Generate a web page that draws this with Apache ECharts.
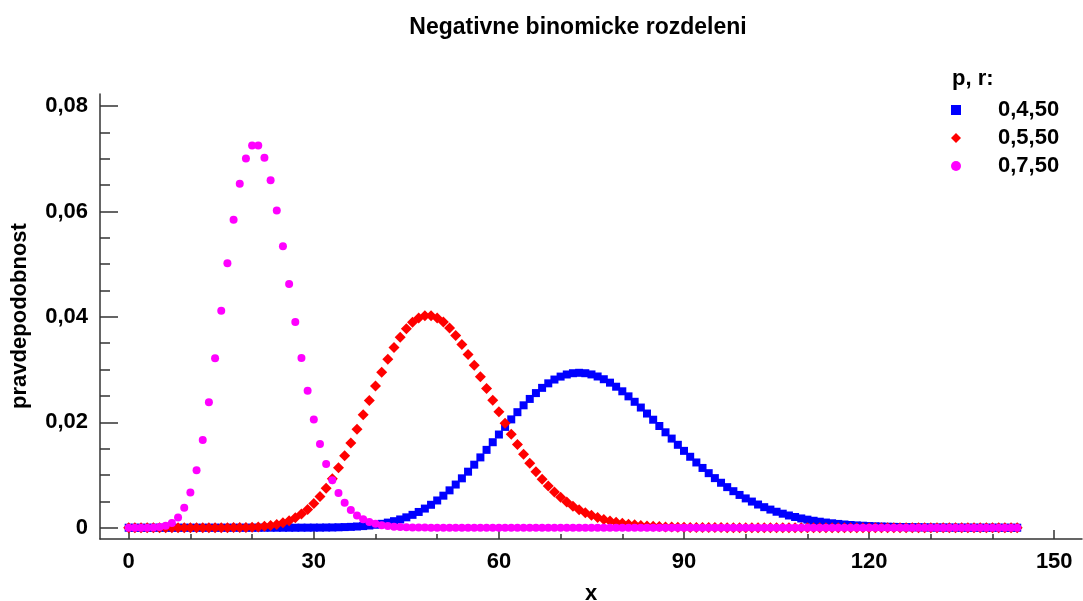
<!DOCTYPE html>
<html>
<head>
<meta charset="utf-8">
<script src="https://cdn.jsdelivr.net/npm/echarts@6/dist/echarts.min.js"></script>
<style>html,body{margin:0;padding:0;background:#fff}#c{width:1083px;height:601px}</style>
</head>
<body>
<div id="c"></div>
<script>
const xValues = [0,1,2,3,4,5,6,7,8,9,10,11,12,13,14,15,16,17,18,19,20,21,22,23,24,25,26,27,28,29,30,31,32,33,34,35,36,37,38,39,40,41,42,43,44,45,46,47,48,49,50,51,52,53,54,55,56,57,58,59,60,61,62,63,64,65,66,67,68,69,70,71,72,73,74,75,76,77,78,79,80,81,82,83,84,85,86,87,88,89,90,91,92,93,94,95,96,97,98,99,100,101,102,103,104,105,106,107,108,109,110,111,112,113,114,115,116,117,118,119,120,121,122,123,124,125,126,127,128,129,130,131,132,133,134,135,136,137,138,139,140,141,142,143,144];

const seriesNames = ['0,4,50', '0,5,50', '0,7,50'];

const p04 = [0,0,0,0,0,0,0,0,0,0,0,0,0,0,0,0,0,0,0,0,0,0,0,0,0,0,0,0,
0.00001,0.00001,0.00002,0.00002,0.00004,0.00005,0.00008,0.00012,0.00016,0.00023,0.00031,0.00042,
0.00056,0.00074,0.00097,0.00124,0.00157,0.00197,0.00244,0.00299,0.00363,0.00435,
0.00517,0.00608,0.00709,0.00819,0.00937,0.01063,0.01196,0.01334,0.01477,0.01622,
0.01768,0.01913,0.02055,0.02192,0.02322,0.02443,0.02554,0.02653,0.02739,0.02811,
0.02867,0.02907,0.02931,0.02939,0.02931,0.02908,0.02869,0.02817,0.02752,0.02675,
0.02588,0.02492,0.02389,0.02280,0.02166,0.02049,0.01930,0.01810,0.01691,0.01573,
0.01458,0.01346,0.01238,0.01134,0.01035,0.00941,0.00853,0.00770,0.00693,0.00622,
0.00556,0.00496,0.00440,0.00390,0.00344,0.00303,0.00266,0.00232,0.00203,0.00176,
0.00153,0.00132,0.00114,0.00098,0.00084,0.00072,0.00061,0.00052,0.00044,0.00038,
0.00032,0.00027,0.00023,0.00019,0.00016,0.00013,0.00011,0.00009,0.00008,0.00006,
0.00005,0.00004,0.00004,0.00003,0.00002,0.00002,0.00002,0.00001,0.00001,0.00001,
0.00001,0.00001,0,0,0];

const p05 = [0,0,0,0,0,0,0,0,0,0,0,0,0,0,0,0,
0.00001,0.00002,0.00003,0.00006,
0.00010,0.00016,0.00026,0.00041,0.00063,0.00093,0.00134,0.00188,0.00259,0.00348,
0.00459,0.00592,0.00749,0.00931,0.01136,0.01363,0.01609,0.01870,0.02141,0.02415,
0.02687,0.02949,0.03195,0.03418,0.03612,0.03773,0.03896,0.03979,0.04020,0.04020,
0.03980,0.03902,0.03789,0.03646,0.03477,0.03287,0.03082,0.02866,0.02643,0.02419,
0.02198,0.01981,0.01774,0.01577,0.01392,0.01221,0.01064,0.00921,0.00792,0.00677,
0.00576,0.00487,0.00409,0.00342,0.00284,0.00235,0.00193,0.00158,0.00129,0.00104,
0.00084,0.00067,0.00054,0.00043,0.00034,0.00027,0.00021,0.00016,0.00013,0.00010,
0.00008,0.00006,0.00005,0.00003,0.00003,0.00002,0.00002,0.00001,0.00001,0.00001,
0,0,0,0,0,0,0,0,0,0,0,0,0,0,0,0,0,0,0,0,0,0,0,0,0,0,0,0,0,0,0,0,0,0,0,0,0,0,0,0,0,0,0,0,0];

const p07 = [0,0,0,0.00001,0.00004,0.00014,0.00038,0.00091,0.00195,0.00377,
0.00667,0.01092,0.01665,0.02382,0.03216,0.04116,0.05017,0.05843,0.06525,0.07006,
0.07251,0.07251,0.07020,0.06593,0.06016,0.05342,0.04623,0.03904,0.03221,0.02599,
0.02053,0.01590,0.01207,0.00900,0.00659,0.00475,0.00336,0.00234,0.00161,0.00109,
0.00073,0.00048,0.00031,0.00020,0.00013,0.00008,0.00005,0.00003,0.00002,0.00001,
0.00001,0,0,0,0,0,0,0,0,0,0,0,0,0,0,0,0,0,0,0,0,0,0,0,0,0,0,0,0,0,0,0,0,0,0,0,0,0,0,0,0,0,0,0,0,0,0,0,0,0,
0,0,0,0,0,0,0,0,0,0,0,0,0,0,0,0,0,0,0,0,0,0,0,0,0,0,0,0,0,0,0,0,0,0,0,0,0,0,0,0,0,0,0,0,0];

const xTickLabels = [0, 30, 60, 90, 120, 150];
const xMinorTicks = [10, 20, 40, 50, 70, 80, 100, 110, 130, 140];
const yTickLabels = [0, 0.02, 0.04, 0.06, 0.08];
const yMinorTicks = [0.005, 0.01, 0.015, 0.025, 0.03, 0.035, 0.045, 0.05, 0.055, 0.065, 0.07, 0.075];

const FONT = '"Liberation Sans", Arial, sans-serif';
const axisColor = '#333';

function pairs(ys) { return xValues.map((x, i) => [x, ys[i]]); }

const chart = echarts.init(document.getElementById('c'), null, { renderer: 'canvas' });

const xRange = { min: -4.65, max: 154.5 };
const yRange = { min: -0.00214, max: 0.08228 };

chart.setOption({
  backgroundColor: '#fff',
  animation: false,
  title: [
    { text: 'Negativne binomicke rozdeleni', left: 573, top: 11, textAlign: 'center',
      textStyle: { fontFamily: FONT, fontWeight: 'bold', fontSize: 23, color: '#000' } },
    { text: 'p, r:', left: 947, top: 63,
      textStyle: { fontFamily: FONT, fontWeight: 'bold', fontSize: 22, color: '#000' } }
  ],
  legend: {
    orient: 'vertical',
    left: 946,
    top: 94,
    itemWidth: 10,
    itemHeight: 10,
    itemGap: 6,
    data: [
      { name: seriesNames[0], icon: 'rect', itemStyle: { color: '#0000ff' } },
      { name: seriesNames[1], icon: 'diamond', itemStyle: { color: '#ff0000' } },
      { name: seriesNames[2], icon: 'circle', itemStyle: { color: '#ff00ff' } }
    ],
    textStyle: { fontFamily: FONT, fontWeight: 'bold', fontSize: 22, color: '#000', lineHeight: 22, padding: [0, 0, 0, 32] }
  },
  grid: { left: 100, right: 1, top: 94, bottom: 62, containLabel: false, outerBoundsMode: 'none' },
  xAxis: [
    {
      type: 'value', min: xRange.min, max: xRange.max, position: 'bottom',
      name: 'x', nameLocation: 'middle', nameGap: 44,
      nameTextStyle: { fontFamily: FONT, fontWeight: 'bold', fontSize: 22, color: '#000' },
      axisLine: { show: true, onZero: false, lineStyle: { color: axisColor, width: 1.5 } },
      axisTick: { show: true, inside: true, length: 9, customValues: xTickLabels, lineStyle: { color: axisColor, width: 1.5 } },
      axisLabel: { show: true, customValues: xTickLabels, margin: 12,
        fontFamily: FONT, fontWeight: 'bold', fontSize: 22, color: '#000' },
      splitLine: { show: false }
    },
    {
      type: 'value', min: xRange.min, max: xRange.max, position: 'bottom', offset: 0,
      axisLine: { show: false, onZero: false },
      axisTick: { show: true, inside: true, length: 5, customValues: xMinorTicks, lineStyle: { color: axisColor, width: 1.5 } },
      axisLabel: { show: false },
      splitLine: { show: false }
    }
  ],
  yAxis: [
    {
      type: 'value', min: yRange.min, max: yRange.max, position: 'left',
      axisLine: { show: true, onZero: false, lineStyle: { color: axisColor, width: 1.5 } },
      axisTick: { show: true, inside: true, length: 18, customValues: yTickLabels, lineStyle: { color: axisColor, width: 1.5 } },
      axisLabel: { show: true, customValues: yTickLabels, margin: 12,
        fontFamily: FONT, fontWeight: 'bold', fontSize: 22, color: '#000',
        formatter: v => (Math.abs(v) < 1e-9 ? '0' : v.toFixed(2).replace('.', ',')) },
      splitLine: { show: false }
    },
    {
      type: 'value', min: yRange.min, max: yRange.max, position: 'left', offset: 0,
      axisLine: { show: false, onZero: false },
      axisTick: { show: true, inside: true, length: 10, customValues: yMinorTicks, lineStyle: { color: axisColor, width: 1.5 } },
      axisLabel: { show: false },
      splitLine: { show: false }
    }
  ],
  graphic: [
    { type: 'text', x: 20, y: 316, rotation: Math.PI / 2,
      style: { text: 'pravdepodobnost', fill: '#000', font: 'bold 22px ' + FONT, textAlign: 'center', textVerticalAlign: 'middle' } }
  ],
  series: [
    { name: seriesNames[0], type: 'scatter', symbol: 'rect', symbolSize: 8, data: pairs(p04),
      itemStyle: { color: '#0000ff', opacity: 1 }, z: 2 },
    { name: seriesNames[1], type: 'scatter', symbol: 'diamond', symbolSize: 11, data: pairs(p05),
      itemStyle: { color: '#ff0000', opacity: 1 }, z: 3 },
    { name: seriesNames[2], type: 'scatter', symbol: 'circle', symbolSize: 8, data: pairs(p07),
      itemStyle: { color: '#ff00ff', opacity: 1 }, z: 4 }
  ]
});
</script>
</body>
</html>
